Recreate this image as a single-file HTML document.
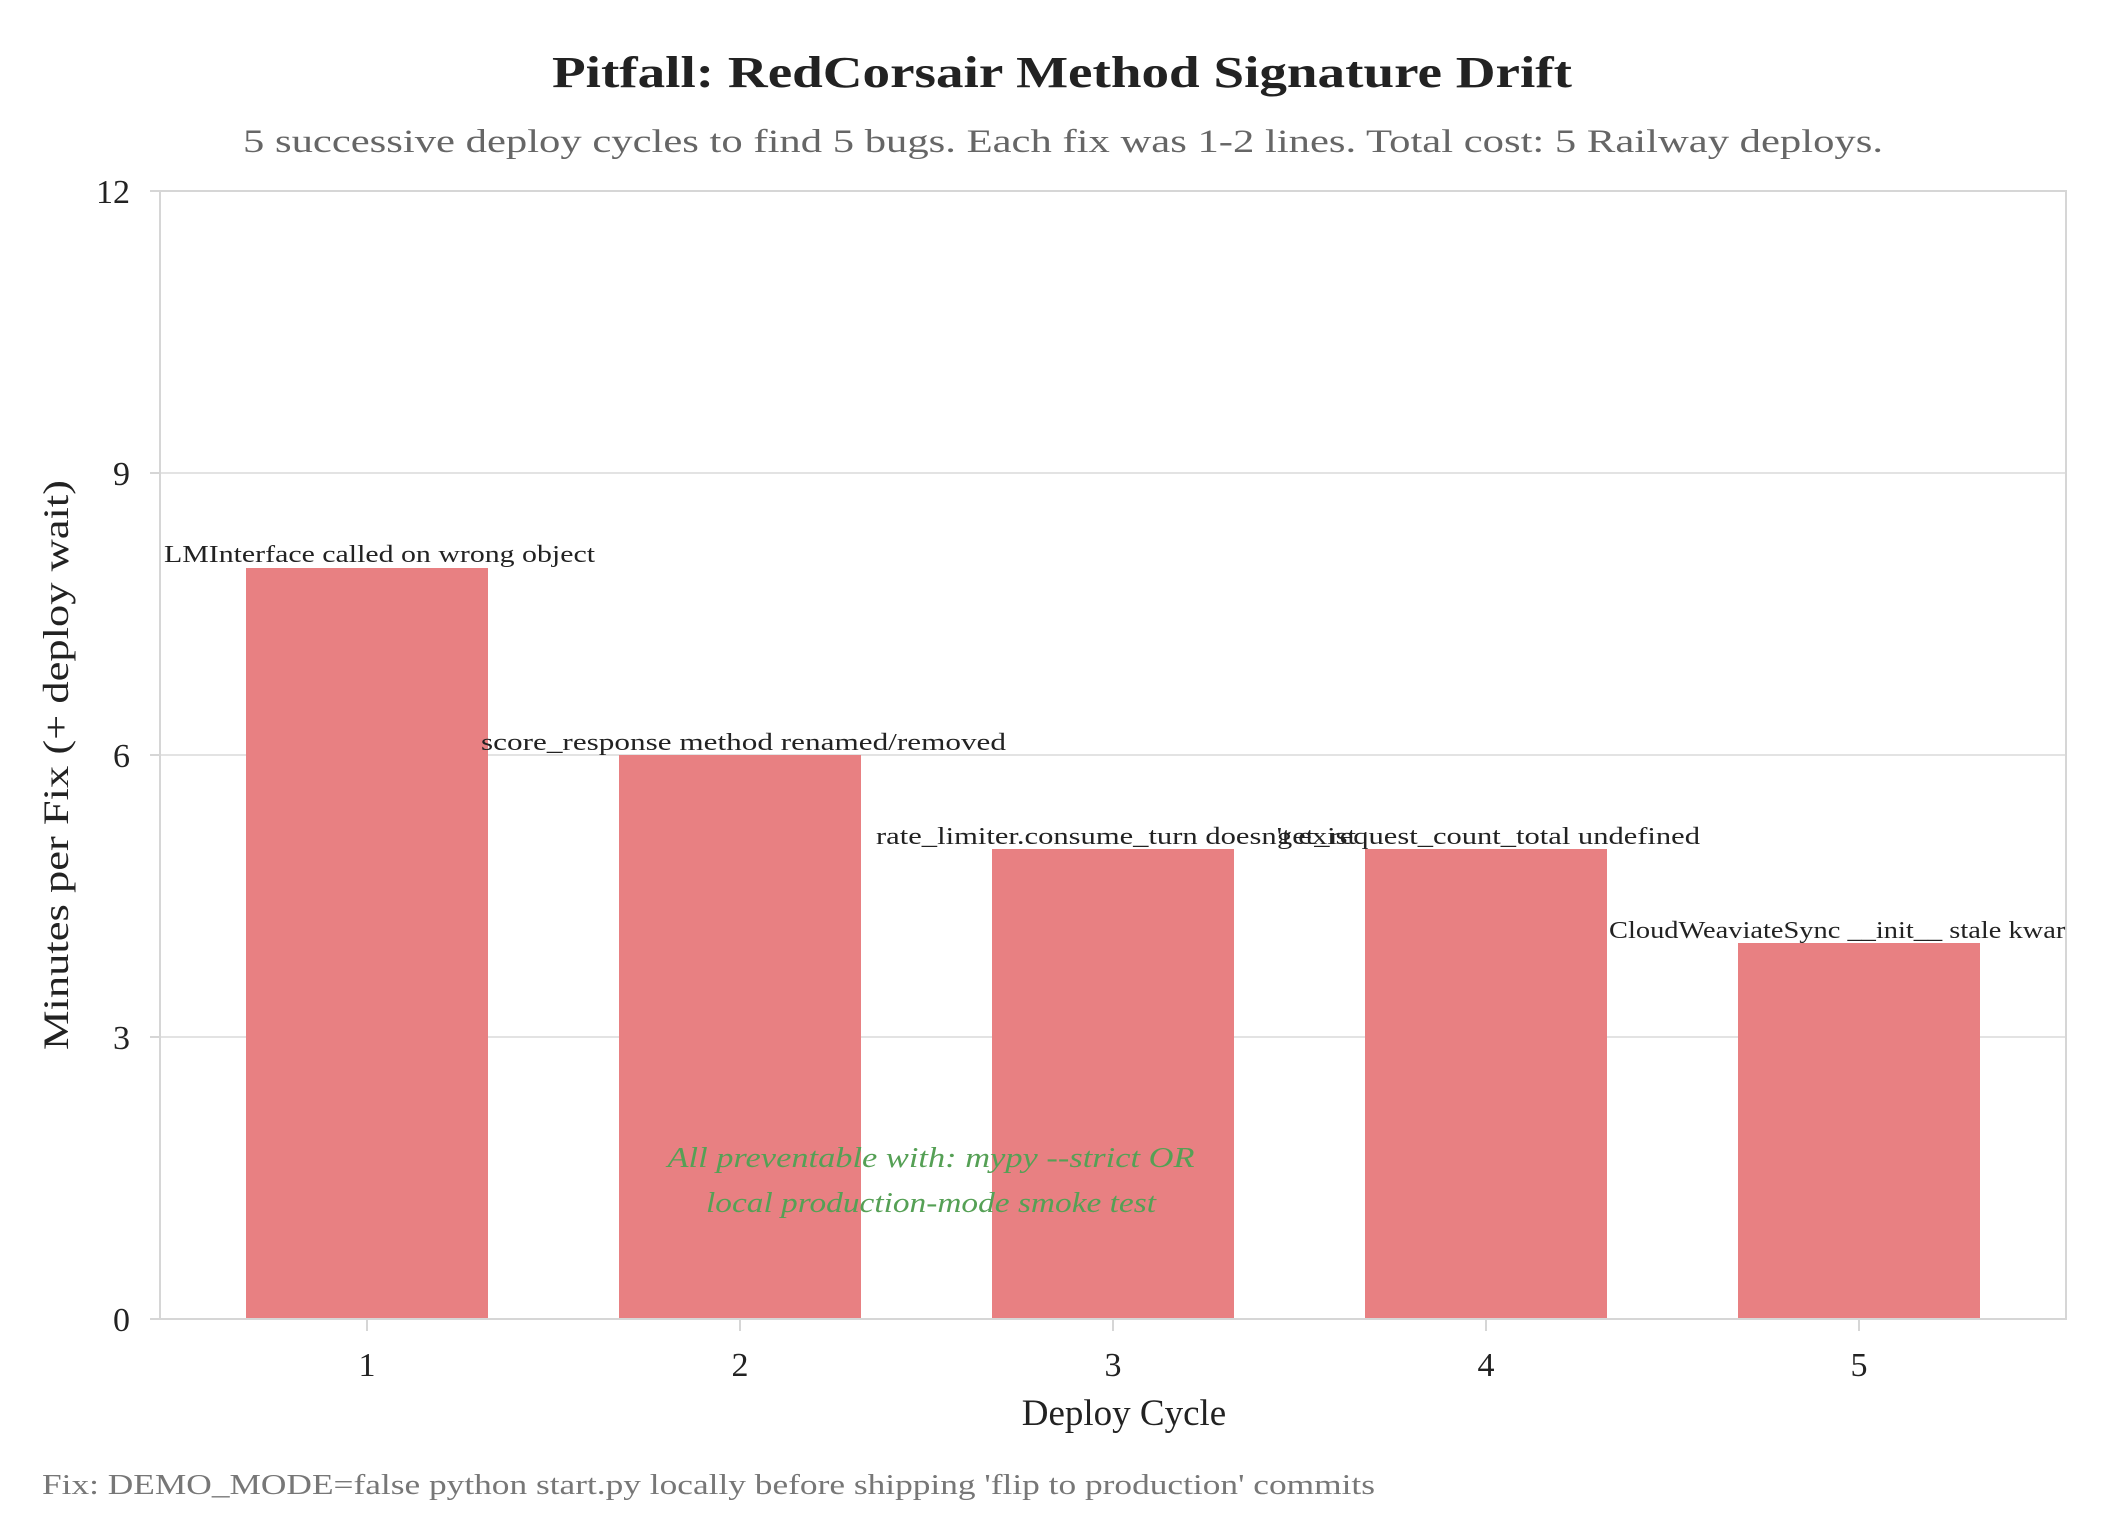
<!DOCTYPE html>
<html><head><meta charset="utf-8"><style>body{margin:0;background:#fff}</style></head><body>
<svg width="2125" height="1535" xmlns="http://www.w3.org/2000/svg" font-family="'Liberation Serif', serif">
<rect width="2125" height="1535" fill="#fff"/>
<g stroke="#e3e3e3" stroke-width="2">
<line x1="160" y1="1037" x2="2066" y2="1037"/>
<line x1="160" y1="755" x2="2066" y2="755"/>
<line x1="160" y1="473" x2="2066" y2="473"/>
<line x1="160" y1="191" x2="2066" y2="191"/>
</g>
<g stroke="#d6d6d6" stroke-width="2">
<line x1="150" y1="1319" x2="160" y2="1319"/><line x1="150" y1="1037" x2="160" y2="1037"/><line x1="150" y1="755" x2="160" y2="755"/><line x1="150" y1="473" x2="160" y2="473"/><line x1="150" y1="191" x2="160" y2="191"/>
<line x1="367" y1="1319" x2="367" y2="1331"/><line x1="740" y1="1319" x2="740" y2="1331"/><line x1="1113" y1="1319" x2="1113" y2="1331"/><line x1="1486" y1="1319" x2="1486" y2="1331"/><line x1="1859" y1="1319" x2="1859" y2="1331"/>
</g>
<g fill="#e88082">
<rect x="246" y="568" width="242" height="751"/>
<rect x="619" y="755" width="242" height="564"/>
<rect x="992" y="849" width="242" height="470"/>
<rect x="1365" y="849" width="242" height="470"/>
<rect x="1738" y="943" width="242" height="376"/>
</g>
<rect x="160" y="191" width="1906" height="1128" fill="none" stroke="#d6d6d6" stroke-width="2"/>
<text x="1062" y="87" font-size="44" font-weight="bold" text-anchor="middle" fill="#222" textLength="1020" lengthAdjust="spacingAndGlyphs">Pitfall: RedCorsair Method Signature Drift</text>
<text x="1063" y="152" font-size="33" text-anchor="middle" fill="#666" textLength="1640" lengthAdjust="spacingAndGlyphs">5 successive deploy cycles to find 5 bugs. Each fix was 1-2 lines. Total cost: 5 Railway deploys.</text>
<g font-size="34" fill="#222" text-anchor="end">
<text x="130" y="1331">0</text><text x="130" y="1049">3</text><text x="130" y="767">6</text><text x="130" y="485">9</text><text x="130" y="203">12</text>
</g>
<g font-size="34" fill="#222" text-anchor="middle">
<text x="367" y="1376">1</text><text x="740" y="1376">2</text><text x="1113" y="1376">3</text><text x="1486" y="1376">4</text><text x="1859" y="1376">5</text>
</g>
<text x="1124" y="1425" font-size="37" text-anchor="middle" fill="#222">Deploy Cycle</text>
<text transform="translate(68,765) rotate(-90)" font-size="36" text-anchor="middle" fill="#222" textLength="570" lengthAdjust="spacingAndGlyphs">Minutes per Fix (+ deploy wait)</text>
<g font-size="24" fill="#222">
<text x="164" y="562" textLength="431" lengthAdjust="spacingAndGlyphs">LMInterface called on wrong object</text>
<text x="481" y="750" textLength="525" lengthAdjust="spacingAndGlyphs">score_response method renamed/removed</text>
<text x="876" y="844" textLength="480" lengthAdjust="spacingAndGlyphs">rate_limiter.consume_turn doesn't exist</text>
<text x="1277" y="844" textLength="423" lengthAdjust="spacingAndGlyphs">get_request_count_total undefined</text>
<svg x="0" y="0" width="2066" height="1535"><text x="1609" y="938" textLength="470" lengthAdjust="spacingAndGlyphs">CloudWeaviateSync __init__ stale kwarg</text></svg>
</g>
<g font-size="29" font-style="italic" fill="#55a055" text-anchor="middle">
<text x="931" y="1167" textLength="527" lengthAdjust="spacingAndGlyphs">All preventable with: mypy --strict OR</text>
<text x="931" y="1212" textLength="450" lengthAdjust="spacingAndGlyphs">local production-mode smoke test</text>
</g>
<text x="42" y="1494" font-size="28" fill="#777" textLength="1333" lengthAdjust="spacingAndGlyphs">Fix: DEMO_MODE=false python start.py locally before shipping 'flip to production' commits</text>
</svg>
</body></html>
